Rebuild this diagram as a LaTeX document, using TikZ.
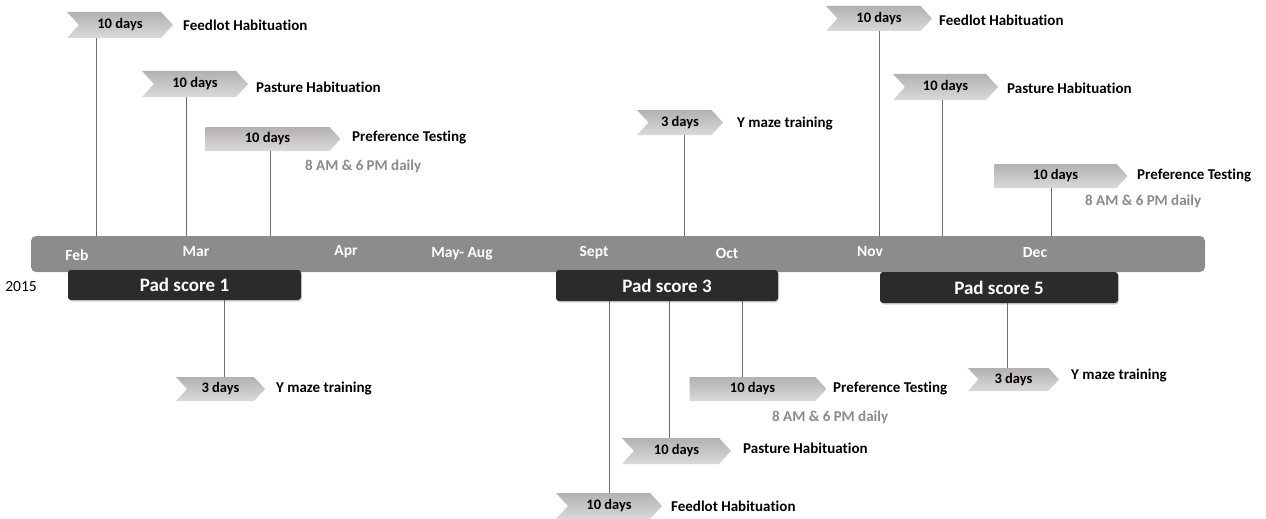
\documentclass[tikz,border=0pt]{standalone}
\usepackage{fontspec}
\setmainfont{Carlito}[Ligatures=NoCommon]
\usetikzlibrary{shapes.symbols,shadows}
\definecolor{barc}{HTML}{8C8C8C}
\definecolor{padc}{HTML}{2B2B2B}
\definecolor{linec}{HTML}{6E6E6E}
\definecolor{subc}{HTML}{8A8A8A}
\definecolor{chtop}{HTML}{B4B0B0}
\definecolor{chmid}{HTML}{A8A4A4}
\definecolor{chbot}{HTML}{DADADA}
\tikzset{
  chev/.style={shape=signal, signal from=west, signal to=east, signal pointer angle=95,
    inner sep=0pt, top color=chtop, middle color=chmid, bottom color=chbot,
    font=\fontsize{14.5}{16}\selectfont\bfseries, text=black},
  pent/.style={shape=signal, signal to=east, signal pointer angle=95,
    inner sep=0pt, top color=chtop, middle color=chmid, bottom color=chbot,
    font=\fontsize{14.5}{16}\selectfont\bfseries, text=black},
  lab/.style={anchor=west, inner sep=0pt, font=\fontsize{15}{17}\selectfont\bfseries},
  sub/.style={anchor=west, inner sep=0pt, text=subc, font=\fontsize{15}{17}\selectfont\bfseries},
  month/.style={inner sep=0pt, text=white, font=\fontsize{15.5}{17}\selectfont\bfseries},
  pad/.style={fill=padc, rounded corners=3pt, inner sep=0pt, text=white,
    drop shadow={opacity=0.35, shadow xshift=1pt, shadow yshift=-1.5pt},
    font=\fontsize{19}{21}\selectfont\bfseries},
  conn/.style={draw=linec, line width=0.8pt},
}
\begin{document}
\begin{tikzpicture}[x=1pt,y=-1pt]
\useasboundingbox (0,0) rectangle (1266,519);
% line x positions
\coordinate (xf1) at (96,0);
\coordinate (xp1) at (186,0);
\coordinate (xt1) at (270,0);
\coordinate (xy2) at (684,0);
\coordinate (xf3) at (879,0);
\coordinate (xp3) at (942,0);
\coordinate (xt3) at (1051,0);
\coordinate (xy1) at (224,0);
\coordinate (xt2) at (742,0);
\coordinate (xp2) at (669,0);
\coordinate (xf2) at (609,0);
\coordinate (xy3) at (1007,0);
% bar
\node[fill=barc, rounded corners=5pt, minimum width=1174pt, minimum height=36pt, inner sep=0pt] (bar) at (618,254) {};
\node[month] (feb) at (77,255) {Feb};
\node[month] (mar) at (196,252) {Mar};
\node[month] (apr) at (346,252) {Apr};
\node[month] (may) at (462,254) {May- Aug};
\node[month] (sep) at (594,253) {Sept};
\node[month] (oct) at (727,253) {Oct};
\node[month] (nov) at (870,252) {Nov};
\node[month] (dec) at (1035,253) {Dec};
\node[inner sep=0pt, font=\fontsize{15.5}{17}\selectfont] (yr) at (21,287) {2015};
% pad boxes
\node[pad, minimum width=233pt, minimum height=30pt] (pad1) at (184.5,285) {Pad score 1};
\node[pad, minimum width=222pt, minimum height=31pt] (pad3) at (667,285.5) {Pad score 3};
\node[pad, minimum width=238pt, minimum height=31pt] (pad5) at (999,287.5) {Pad score 5};
% top chevrons
\node[chev, minimum width=106pt, minimum height=26pt] (f1) at (120,25) {10 days};
\node[lab] (f1l) at (183,25) {Feedlot Habituation};
\node[chev, minimum width=106pt, minimum height=26pt] (p1) at (195,84) {10 days};
\node[lab] (p1l) at (256,87) {Pasture Habituation};
\node[pent, minimum width=135pt, minimum height=24pt] (t1) at (267.5,139) {10 days};
\node[lab] (t1l) at (352,138) {Preference Testing};
\node[sub] (t1s) at (305,166) {8 AM \& 6 PM daily};
\node[chev, minimum width=86pt, minimum height=25pt] (y2) at (680,122.5) {3 days};
\node[lab] (y2l) at (737,124) {Y maze training};
\node[chev, minimum width=106pt, minimum height=25pt] (f3) at (879,18.5) {10 days};
\node[lab] (f3l) at (939,20) {Feedlot Habituation};
\node[chev, minimum width=105pt, minimum height=26pt] (p3) at (945.5,87) {10 days};
\node[lab] (p3l) at (1007,88) {Pasture Habituation};
\node[pent, minimum width=133pt, minimum height=24pt] (t3) at (1055.5,176) {10 days};
\node[lab] (t3l) at (1137,176) {Preference Testing};
\node[sub] (t3s) at (1085,201) {8 AM \& 6 PM daily};
% bottom chevrons
\node[chev, minimum width=89pt, minimum height=24pt] (y1) at (220.5,389) {3 days};
\node[lab] (y1l) at (276,389) {Y maze training};
\node[pent, minimum width=137pt, minimum height=24pt] (t2) at (752.5,389) {10 days};
\node[lab] (t2l) at (833,389) {Preference Testing};
\node[sub] (t2s) at (772,417) {8 AM \& 6 PM daily};
\node[chev, minimum width=109pt, minimum height=26pt] (p2) at (676.5,451) {10 days};
\node[lab] (p2l) at (743,448) {Pasture Habituation};
\node[chev, minimum width=106pt, minimum height=26pt] (f2) at (609,506) {10 days};
\node[lab] (f2l) at (671,506) {Feedlot Habituation};
\node[chev, minimum width=91pt, minimum height=23pt] (y3) at (1013.5,379.5) {3 days};
\node[lab] (y3l) at (1071,376) {Y maze training};
% connectors
\draw[conn] (xf1 |- f1.south) -- (xf1 |- bar.north);
\draw[conn] (xp1 |- p1.south) -- (xp1 |- bar.north);
\draw[conn] (xt1 |- t1.south) -- (xt1 |- bar.north);
\draw[conn] (xy2 |- y2.south) -- (xy2 |- bar.north);
\draw[conn] (xf3 |- f3.south) -- (xf3 |- bar.north);
\draw[conn] (xp3 |- p3.south) -- (xp3 |- bar.north);
\draw[conn] (xt3 |- t3.south) -- (xt3 |- bar.north);
\draw[conn] (xy1 |- pad1.south) -- (xy1 |- y1.north);
\draw[conn] (xt2 |- pad3.south) -- (xt2 |- t2.north);
\draw[conn] (xp2 |- pad3.south) -- (xp2 |- p2.north);
\draw[conn] (xf2 |- pad3.south) -- (xf2 |- f2.north);
\draw[conn] (xy3 |- pad5.south) -- (xy3 |- y3.north);
\end{tikzpicture}
\end{document}
